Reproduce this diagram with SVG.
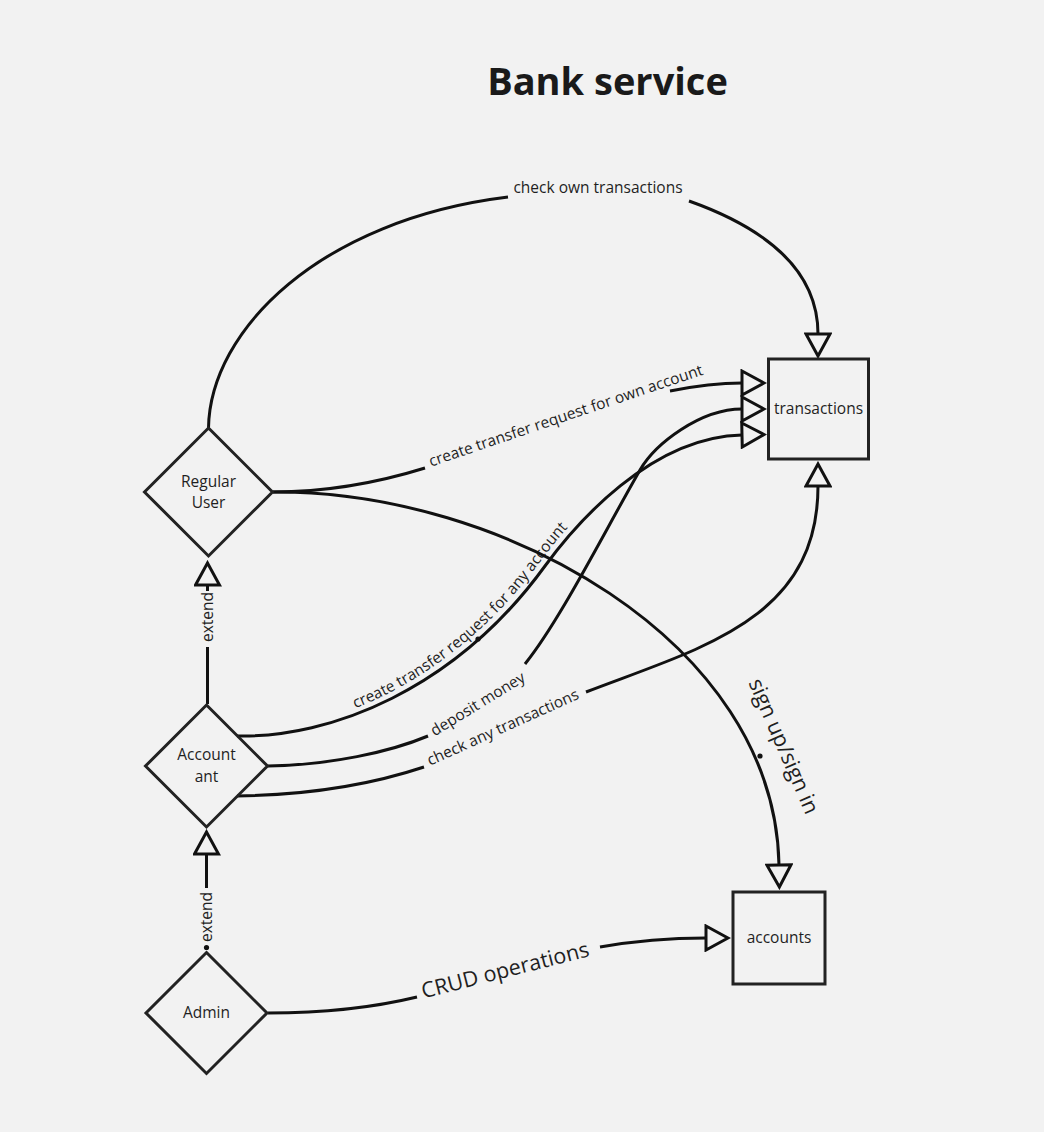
<svg xmlns="http://www.w3.org/2000/svg" width="1044" height="1132" viewBox="0 0 1044 1132">
<defs>
<style>
.ln{fill:none;stroke:#111;stroke-width:3}
.ar{marker-end:url(#tri)}
.shape{fill:none;stroke:#222;stroke-width:3}
.t{font-family:"Open Sans","Noto Sans","Liberation Sans",sans-serif;font-size:15.5px;fill:#1f1f1f}
.c{text-anchor:middle}
.big{font-size:21.5px}
.title{font-family:"Open Sans","Noto Sans","Liberation Sans",sans-serif;font-size:38px;font-weight:700;fill:#1a1a1a;text-anchor:middle}
.dot{fill:#111}
</style>
<marker id="tri" viewBox="0 0 27 28" refX="2" refY="14" markerWidth="27" markerHeight="28" markerUnits="userSpaceOnUse" orient="auto">
<path d="M2,2 L24,14 L2,26 Z" fill="#f2f2f2" stroke="#111" stroke-width="3"/>
</marker>
<path id="lpB" d="M427,468 L708,373"/>
<path id="lpC" d="M237,730 C329,733 450,684 540,562 C570,521 647,431 742,430"/>
<path id="lpD" d="M429,740 L532,677"/>
<path id="lpE" d="M425,768 L585,696"/>
<path id="lpG" d="M420,999.5 L594,955"/>
</defs>
<rect width="1044" height="1132" fill="#f2f2f2"/>
<text class="title" x="607.5" y="95">Bank service</text>

<g id="connectors">
<!-- check own transactions -->
<path class="ln" d="M208.5,428 C210,330 320,220 508,197"/>
<path class="ln ar" d="M689,201 C765,228 818,270 818,334"/>
<text class="t c" x="598" y="193">check own transactions</text>
<!-- create transfer request for own account -->
<path class="ln" d="M273,492 C330,492 380,482 425,468"/>
<path class="ln ar" d="M670,391 C700,385 720,383 742,383"/>
<text class="t c"><textPath href="#lpB" startOffset="50%">create transfer request for own account</textPath></text>
<!-- create transfer request for any account -->
<path class="ln ar" d="M237,736 C330,738 455,690 545,566 C575,525 650,437 742,435"/>
<circle class="dot" cx="478" cy="639" r="2.6"/>
<text class="t"><textPath href="#lpC" startOffset="121">create transfer request for any account</textPath></text>
<!-- deposit money -->
<path class="ln" d="M268,766 C330,765 390,752 428,736"/>
<path class="ln ar" d="M525,664 C560,620 600,540 640,470 C655,444 700,409 742,409"/>
<text class="t c"><textPath href="#lpD" startOffset="50%">deposit money</textPath></text>
<!-- check any transactions -->
<path class="ln" d="M237,796 C310,795 370,785 424,767"/>
<path class="ln ar" d="M586,692 C700,648 818,620 818,486"/>
<text class="t c"><textPath href="#lpE" startOffset="50%">check any transactions</textPath></text>
<!-- sign up/sign in -->
<path class="ln ar" d="M273,492 C500,490 775,640 779,865"/>
<circle class="dot" cx="760" cy="756" r="2.6"/>
<text class="t c big" transform="translate(784,746) rotate(66.5)" y="7.5">sign up/sign in</text>
<!-- CRUD operations -->
<path class="ln" d="M268,1013 C330,1013 380,1006 417,997"/>
<path class="ln ar" d="M600,947 C640,940 670,938 706,938"/>
<text class="t c big"><textPath href="#lpG" startOffset="50%">CRUD operations</textPath></text>
<!-- extend: Accountant -> Regular User -->
<path class="ln" d="M207.5,704 L207.5,647"/>
<path class="ln ar" d="M207.5,591 L207.5,585"/>
<text class="t c" transform="translate(207.5,617) rotate(-90)" y="5.5">extend</text>
<!-- extend: Admin -> Accountant -->
<path class="ln ar" d="M206.5,888 L206.5,854"/>
<circle class="dot" cx="206.5" cy="947.5" r="2.6"/>
<text class="t c" transform="translate(206.5,917) rotate(-90)" y="5.5">extend</text>
</g>

<g id="node-regular-user">
<path class="shape" d="M208.5,428 L272.5,492 L208.5,556 L144.5,492 Z"/>
<text class="t c" x="208.5" y="486.5">Regular</text>
<text class="t c" x="208.5" y="508">User</text>
</g>
<g id="node-accountant">
<path class="shape" d="M206.5,705 L267.5,766 L206.5,827 L145.5,766 Z"/>
<text class="t c" x="206.5" y="760">Account</text>
<text class="t c" x="206.5" y="782">ant</text>
</g>
<g id="node-admin">
<path class="shape" d="M206.5,952.5 L267,1013 L206.5,1073.5 L146,1013 Z"/>
<text class="t c" x="206.5" y="1018">Admin</text>
</g>
<g id="node-transactions">
<rect class="shape" x="768.5" y="359" width="100" height="100"/>
<text class="t c" x="818.5" y="414">transactions</text>
</g>
<g id="node-accounts">
<rect class="shape" x="733" y="892" width="92" height="92"/>
<text class="t c" x="779" y="943">accounts</text>
</g>
</svg>
